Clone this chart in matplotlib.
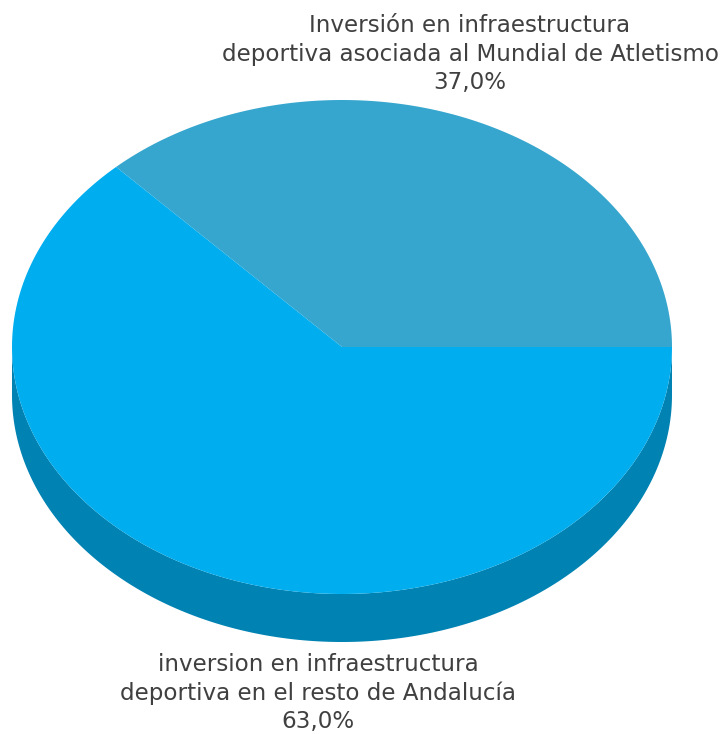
import numpy as np
import matplotlib.pyplot as plt
from matplotlib.patches import Polygon

# Chart data
labels = ["Inversión en infraestructura\ndeportiva asociada al Mundial de Atletismo",
          "inversion en infraestructura\ndeportiva en el resto de Andalucía"]
values = [37.0, 63.0]
top_colors = ["#36A6CE", "#00ADEF"]
side_color = "#0083B3"

# Ellipse geometry (pixels)
cx, cy = 342, 347
rx, ry = 330, 247
depth = 48

fig = plt.figure(figsize=(7.28, 7.34), dpi=100)
ax = fig.add_axes([0, 0, 1, 1])
ax.set_xlim(0, 728)
ax.set_ylim(734, 0)
ax.axis("off")

def arc(a0, a1, dy=0, n=200):
    t = np.radians(np.linspace(a0, a1, n))
    return np.column_stack([cx + rx * np.cos(t), cy - ry * np.sin(t) + dy])

# side wall (lower half only)
front = arc(180, 360)
side = np.vstack([front, arc(360, 180, dy=depth)])
ax.add_patch(Polygon(side, closed=True, facecolor=side_color, edgecolor="none"))

# top faces
start = 0
for v, c in zip(values, top_colors):
    span = v / sum(values) * 360
    pts = np.vstack([[cx, cy], arc(start, start + span)])
    ax.add_patch(Polygon(pts, closed=True, facecolor=c, edgecolor="none"))
    start += span

txt = dict(ha="center", va="center", fontsize=16.6, color="#404040",
           family="DejaVu Sans", linespacing=1.3)
ax.text(470, 54, labels[0] + "\n" + f"{values[0]:.1f}%".replace(".", ","), **txt)
ax.text(318, 693, labels[1] + "\n" + f"{values[1]:.1f}%".replace(".", ","), **txt)

fig.savefig("out.png", dpi=100)
